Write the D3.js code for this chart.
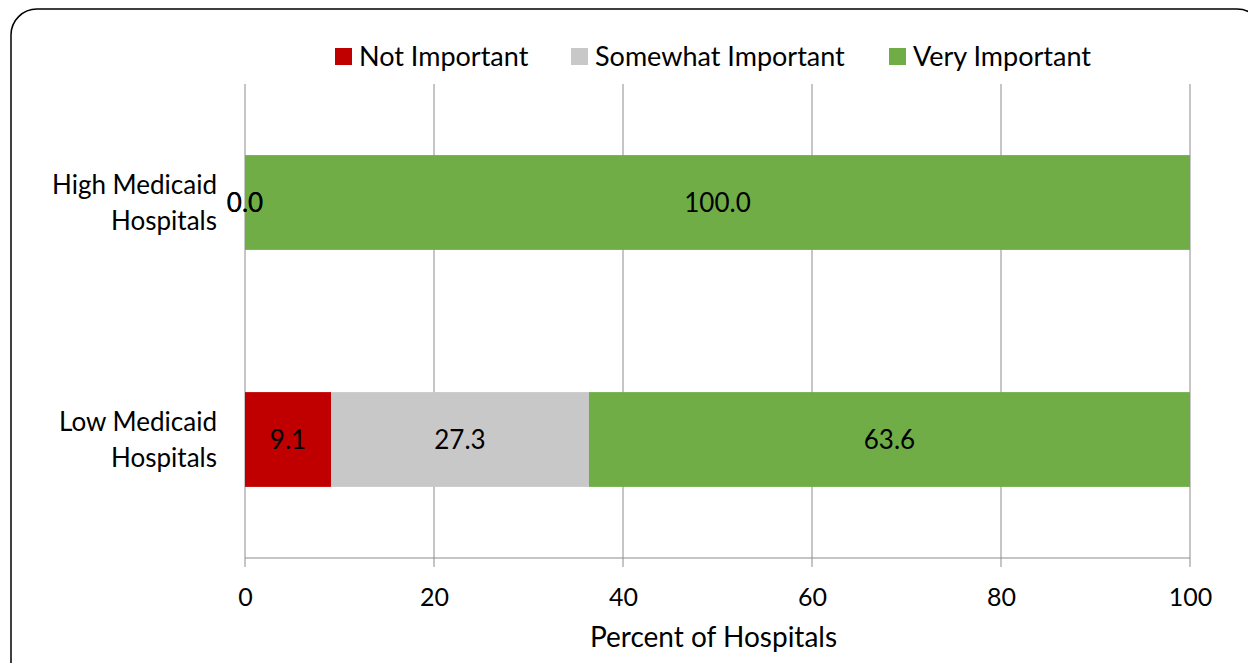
<!DOCTYPE html>
<html lang="en">
<head>
<meta charset="utf-8">
<script src="https://d3js.org/d3.v7.min.js"></script>
<style>
  body { margin: 0; background: #fff; }
  text { font-family: Lato, "Open Sans", sans-serif; fill: #000; }
</style>
</head>
<body>
<div id="chart"></div>
<script>
// data
var categories = ["High Medicaid Hospitals", "Low Medicaid Hospitals"];
var catLines = [["High Medicaid", "Hospitals"], ["Low Medicaid", "Hospitals"]];
var seriesNames = ["Not Important", "Somewhat Important", "Very Important"];
var notImportant = [0.0, 9.1];
var somewhatImportant = [0.0, 27.3];
var veryImportant = [100.0, 63.6];
var xTicks = [0, 20, 40, 60, 80, 100];
var colors = ["#C00000", "#C8C8C8", "#70AD47"];

var W = 1248, H = 663;
var margin = {top: 84, right: 58, bottom: 105, left: 245},
    width = W - margin.left - margin.right,
    height = H - margin.top - margin.bottom;

var svg = d3.select("#chart").append("svg")
    .attr("width", W).attr("height", H);

// outer frame
svg.append("rect")
   .attr("x", 11).attr("y", 9)
   .attr("width", 1252).attr("height", 700)
   .attr("rx", 26).attr("ry", 26)
   .attr("fill", "none").attr("stroke", "#000").attr("stroke-width", 1.5);

var g = svg.append("g")
    .attr("transform", "translate(" + margin.left + "," + margin.top + ")");

var x = d3.scaleLinear().domain([0, 100]).range([0, width]);
var y = d3.scaleBand().domain(categories).range([0, height]);

// gridlines
g.selectAll(".grid").data(xTicks).enter().append("line")
  .attr("x1", function(d) { return x(d); }).attr("x2", function(d) { return x(d); })
  .attr("y1", 0).attr("y2", height + 9)
  .attr("stroke", "#8c8c8c").attr("stroke-width", 1);

// axis line
g.append("line").attr("x1", 0).attr("x2", width)
  .attr("y1", height).attr("y2", height)
  .attr("stroke", "#8c8c8c").attr("stroke-width", 1);

var xAxis = d3.axisBottom(x).tickValues(xTicks).tickSize(0).tickPadding(0);
var ax = g.append("g").attr("transform", "translate(0," + height + ")").call(xAxis);
ax.select(".domain").remove();
ax.selectAll("text").attr("dy", 0).attr("y", 48).style("font-size", "25px");

// axis title
g.append("text").attr("x", x(50) - 4).attr("y", height + 89)
  .attr("text-anchor", "middle").style("font-size", "28px")
  .text("Percent of Hospitals");

// stacked bars
var rows = categories.map(function(c, i) {
  return {cat: c, vals: [notImportant[i], somewhatImportant[i], veryImportant[i]]};
});
var barH = y.bandwidth() * 0.4;
var labels = [];

rows.forEach(function(r, i) {
  var x0 = 0;
  var cy = y(r.cat) + y.bandwidth() / 2;
  r.vals.forEach(function(v, k) {
    g.append("rect")
     .attr("x", x(x0)).attr("y", cy - barH / 2)
     .attr("width", x(x0 + v) - x(x0)).attr("height", barH)
     .attr("fill", colors[k]);
    labels.push({x: x(x0 + v / 2), y: cy, t: v.toFixed(1)});
    x0 += v;
  });
  // category label
  var t = g.append("text").attr("text-anchor", "end").style("font-size", "26px");
  catLines[i].forEach(function(line, j) {
    t.append("tspan").attr("x", -28).attr("y", cy - 9 + j * 36).text(line);
  });
});

// data labels on top of all bars
labels.forEach(function(l) {
  g.append("text")
   .attr("x", l.x).attr("y", l.y)
   .attr("dy", "0.35em").attr("text-anchor", "middle")
   .style("font-size", "26px")
   .text(l.t);
});

// legend
var legX = [335, 571, 889];
seriesNames.forEach(function(n, k) {
  svg.append("rect").attr("x", legX[k]).attr("y", 48)
     .attr("width", 17).attr("height", 17).attr("fill", colors[k]);
  svg.append("text").attr("x", legX[k] + 24).attr("y", 57)
     .attr("dy", "0.35em").style("font-size", "27px").text(n);
});
</script>
</body>
</html>
